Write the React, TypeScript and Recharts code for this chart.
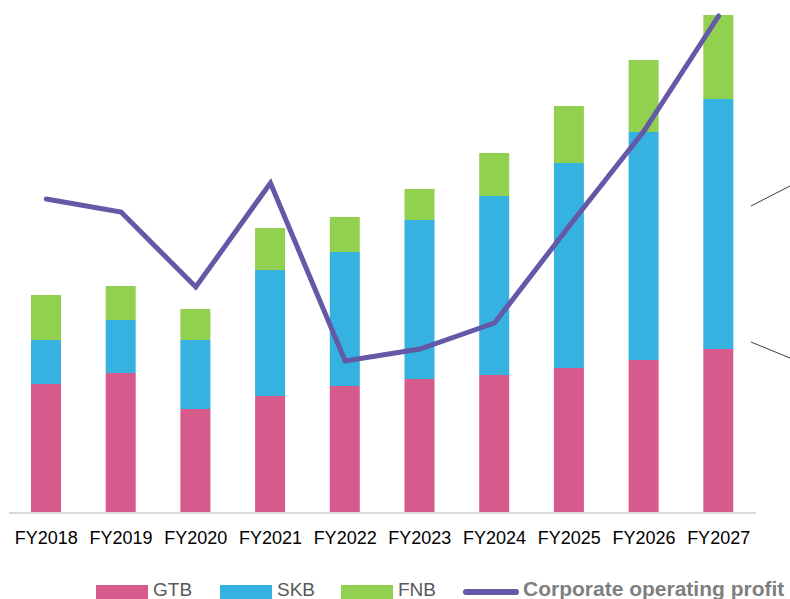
import React from 'react';
import { ComposedChart, Bar, Line, XAxis, YAxis } from 'recharts';

const years = ['FY2018', 'FY2019', 'FY2020', 'FY2021', 'FY2022', 'FY2023', 'FY2024', 'FY2025', 'FY2026', 'FY2027'];
const gtb = [129, 140, 104, 117, 127, 134, 138, 145, 153, 164];
const skb = [44, 53, 69, 126, 134, 159, 179, 205, 228, 250];
const fnb = [45, 34, 31, 42, 35, 31, 43, 57, 72, 84];
const profit = [314, 301, 226, 330, 152, 164, 190, 287, 382, 497];

const data = years.map((year, i) => ({
  year,
  GTB: gtb[i],
  SKB: skb[i],
  FNB: fnb[i],
  profit: profit[i],
}));

const PINK = '#D75A8C';
const BLUE = '#35B2DF';
const GREEN = '#92D050';
const PURPLE = '#6459A7';

const legendItems = [
  { label: 'GTB', color: PINK, left: 96 },
  { label: 'SKB', color: BLUE, left: 220 },
  { label: 'FNB', color: GREEN, left: 341 },
];

const App: React.FC = () => {
  return (
    <div style={{ position: 'absolute', left: 0, top: 0, width: 790, height: 599, background: '#fff', overflow: 'hidden' }}>
      <ComposedChart width={790} height={560} data={data} margin={{ top: 13, right: 34, left: 9, bottom: 0 }}>
        <XAxis
          dataKey="year"
          height={47}
          tickLine={false}
          axisLine={{ stroke: '#D9D9D9', strokeWidth: 2 }}
          tickMargin={12}
          tick={{ fontSize: 18, fill: '#000', fontFamily: '"Liberation Sans", Arial, sans-serif' }}
          interval={0}
        />
        <YAxis hide domain={[0, 500]} />
        <Bar dataKey="GTB" stackId="a" fill={PINK} barSize={30} isAnimationActive={false} />
        <Bar dataKey="SKB" stackId="a" fill={BLUE} barSize={30} isAnimationActive={false} />
        <Bar dataKey="FNB" stackId="a" fill={GREEN} barSize={30} isAnimationActive={false} />
        <Line
          dataKey="profit"
          stroke={PURPLE}
          strokeWidth={5}
          strokeLinecap="round"
          dot={false}
          activeDot={false}
          isAnimationActive={false}
        />
      </ComposedChart>

      {/* leader lines of the cut-off labels on the right */}
      <svg width={790} height={599} style={{ position: 'absolute', left: 0, top: 0, pointerEvents: 'none' }}>
        <line x1={751} y1={206} x2={790} y2={186} stroke="#404040" strokeWidth={1} />
        <line x1={751} y1={342} x2={790} y2={358} stroke="#404040" strokeWidth={1} />
      </svg>

      {/* legend */}
      {legendItems.map((item) => (
        <React.Fragment key={item.label}>
          <div style={{ position: 'absolute', left: item.left, top: 585, width: 52, height: 14, background: item.color }} />
          <div
            style={{
              position: 'absolute',
              left: item.left + 57,
              top: 582,
              fontFamily: '"Liberation Sans", Arial, sans-serif',
              fontSize: 19,
              lineHeight: '15px',
              color: '#595959',
            }}
          >
            {item.label}
          </div>
        </React.Fragment>
      ))}
      <div style={{ position: 'absolute', left: 463, top: 589, width: 56, height: 6, borderRadius: 3, background: PURPLE }} />
      <div
        style={{
          position: 'absolute',
          left: 523,
          top: 580,
          fontFamily: '"Liberation Sans", Arial, sans-serif',
          fontWeight: 'bold',
          fontSize: 21,
          lineHeight: '18px',
          color: '#7F7F7F',
          whiteSpace: 'nowrap',
        }}
      >
        Corporate operating profit
      </div>
    </div>
  );
};

export default App;
